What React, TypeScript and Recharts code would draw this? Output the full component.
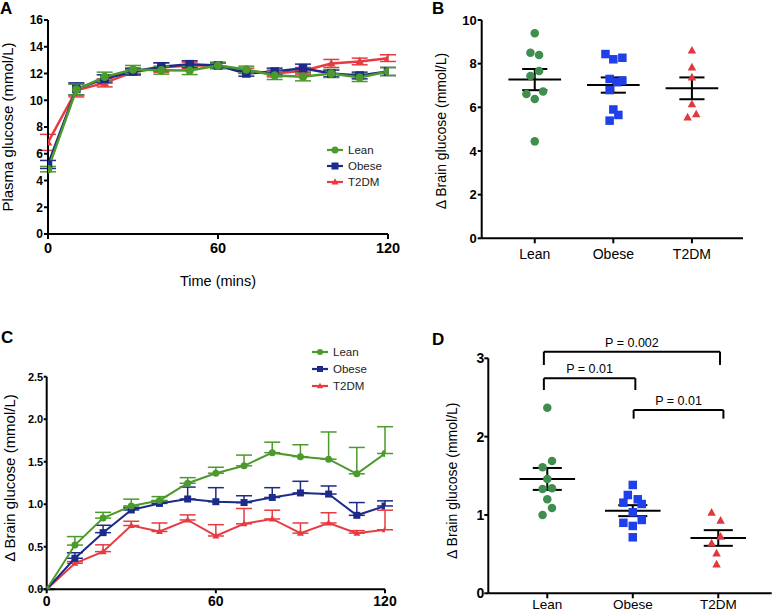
import React from 'react';
import { LineChart, Line, XAxis, YAxis, ErrorBar, ScatterChart, Scatter, ReferenceLine, Legend } from 'recharts';

const FONT = '"Liberation Sans", Arial, Helvetica, sans-serif';

// ---------- shared ----------
const groups = ['Lean', 'Obese', 'T2DM'];
const times = [0, 10, 20, 30, 40, 50, 60, 70, 80, 90, 100, 110, 120];

// ---------- Panel A: plasma glucose (mmol/L), mean ± SEM ----------
const plasmaLean = [4.85, 10.8, 11.75, 12.3, 12.25, 12.22, 12.6, 12.3, 11.85, 11.75, 12.0, 11.7, 12.15];
const plasmaLeanSem = [0.2, 0.4, 0.35, 0.3, 0.3, 0.3, 0.25, 0.25, 0.3, 0.3, 0.3, 0.3, 0.3];
const plasmaObese = [5.2, 10.85, 11.6, 12.15, 12.5, 12.7, 12.6, 12.0, 12.15, 12.4, 12.0, 11.85, 12.15];
const plasmaObeseSem = [0.3, 0.45, 0.3, 0.25, 0.3, 0.25, 0.2, 0.2, 0.25, 0.3, 0.25, 0.25, 0.3];
const plasmaT2dm = [6.85, 10.75, 11.3, 12.1, 12.45, 12.6, 12.6, 12.2, 12.0, 12.2, 12.75, 12.9, 13.15];
const plasmaT2dmSem = [0.6, 0.5, 0.3, 0.2, 0.35, 0.25, 0.2, 0.2, 0.25, 0.25, 0.3, 0.25, 0.25];

// ---------- Panel B: Δ brain glucose individual values ----------
const bLean = [9.39, 8.5, 8.4, 7.66, 7.43, 6.61, 6.72, 6.38, 4.44];
const bLeanJitter = [0, -0.055, 0.055, 0.055, -0.055, -0.106, 0.106, 0, 0];
const bObese = [8.44, 8.2, 8.27, 7.3, 7.15, 7.22, 6.79, 5.9, 5.65, 5.39];
const bObeseJitter = [-0.1, 0, 0.115, -0.047, 0.05, 0.115, -0.047, 0, 0.064, -0.047];
const bT2dm = [8.6, 7.83, 7.37, 6.14, 5.54, 5.68];
const bT2dmJitter = [0, 0, 0, 0, -0.055, 0.055];
const bMean = [7.27, 7.02, 6.87];
const bSem = [0.485, 0.35, 0.5];

// ---------- Panel C: Δ brain glucose time course, mean + SEM ----------
const brainLean = [0, 0.52, 0.837, 0.98, 1.045, 1.247, 1.365, 1.452, 1.607, 1.56, 1.53, 1.358, 1.597];
const brainLeanSem = [0, 0.1, 0.068, 0.08, 0.045, 0.066, 0.07, 0.126, 0.123, 0.14, 0.32, 0.31, 0.315];
const brainObese = [0, 0.365, 0.666, 0.933, 1.01, 1.062, 1.03, 1.02, 1.08, 1.133, 1.12, 0.87, 0.98];
const brainObeseSem = [0, 0.065, 0.087, 0.03, 0.03, 0.14, 0.165, 0.08, 0.115, 0.137, 0.095, 0.15, 0.06];
const brainT2dm = [0, 0.306, 0.443, 0.75, 0.68, 0.815, 0.627, 0.77, 0.827, 0.66, 0.78, 0.66, 0.7];
const brainT2dmSem = [0, 0.02, 0.08, 0.05, 0.1, 0.06, 0.133, 0.18, 0.103, 0.12, 0.12, 0.03, 0.23];

// ---------- Panel D: Δ brain glucose individual values ----------
const dLean = [2.37, 1.69, 1.61, 1.46, 1.33, 1.34, 1.2, 1.09, 1.0];
const dLeanJitter = [0, 0.055, -0.055, 0, -0.055, 0.055, 0, 0.055, -0.055];
const dObese = [1.383, 1.255, 1.2, 1.157, 1.14, 1.034, 0.9, 0.936, 0.86, 0.715];
const dObeseJitter = [0, -0.058, 0.058, -0.11, 0.105, 0, -0.11, 0.105, 0, 0];
const dT2dm = [1.03, 0.928, 0.723, 0.638, 0.51, 0.37];
const dT2dmJitter = [-0.078, 0.027, 0.027, -0.078, -0.02, -0.02];
const dMean = [1.46, 1.055, 0.706];
const dSem = [0.14, 0.07, 0.1];
const pLabels = ['P = 0.002', 'P = 0.01', 'P = 0.01'];
const pFrom = [0.96, 0.96, 2.01];
const pTo = [3.02, 2.03, 3.06];
const pTop = [3.085, 2.745, 2.34];
const pDrop = [0.17, 0.15, 0.11];

// ---------- styling ----------
const lineColors: Record<string, string> = { Lean: '#4b9a2b', Obese: '#1d2a8a', T2DM: '#e63b40' };
const dotColors: Record<string, string> = { Lean: '#3e8e4f', Obese: '#1f3fe8', T2DM: '#e2373f' };
const shapeOf: Record<string, string> = { Lean: 'circle', Obese: 'square', T2DM: 'triangle' };

function Marker({ cx, cy, kind, size, color }: any) {
  if (cx == null || cy == null) return null;
  if (kind === 'circle') return <circle cx={cx} cy={cy} r={size / 2} fill={color} />;
  if (kind === 'square') return <rect x={cx - size / 2} y={cy - size / 2} width={size} height={size} fill={color} />;
  const h = size * 0.9;
  return <polygon points={`${cx},${cy - h * 0.6} ${cx - size / 2},${cy + h * 0.4} ${cx + size / 2},${cy + h * 0.4}`} fill={color} />;
}

const dotFn = (name: string, size: number, palette: Record<string, string>) => (p: any) => (
  <Marker key={`${name}-${p.index}`} cx={p.cx} cy={p.cy} kind={shapeOf[name]} size={size} color={palette[name]} />
);

const shapeFn = (name: string, size: number) => (p: any) => (
  <Marker cx={p.cx} cy={p.cy} kind={shapeOf[name]} size={size} color={dotColors[name]} />
);

const vLabel = (text: string, x: number, y: number, size: number) => () => (
  <text x={x} y={y} transform={`rotate(-90 ${x} ${y})`} textAnchor="middle" fontSize={size} fontFamily={FONT} fill="#000">
    {text}
  </text>
);

const hLabel = (text: string, x: number, y: number, size: number) => () => (
  <text x={x} y={y} textAnchor="middle" fontSize={size} fontFamily={FONT} fill="#000">
    {text}
  </text>
);

function LegendBox({ size, rowH }: { size: number; rowH: number }) {
  return (
    <div style={{ fontFamily: FONT, fontSize: 11.5, color: '#222' }}>
      {groups.map((g) => (
        <div key={g} style={{ display: 'flex', alignItems: 'center', height: rowH }}>
          <svg width={18} height={12} style={{ display: 'block' }}>
            <line x1={1} y1={6} x2={17} y2={6} stroke={lineColors[g]} strokeWidth={2.2} />
            <Marker cx={9} cy={6} kind={shapeOf[g]} size={size} color={lineColors[g]} />
          </svg>
          <span style={{ marginLeft: 4 }}>{g}</span>
        </div>
      ))}
    </div>
  );
}

const axisStroke = { stroke: '#000', strokeWidth: 2 };
const boldTick = (fs: number) => ({ fontSize: fs, fontWeight: 'bold', fill: '#000', fontFamily: FONT });
const normTick = (fs: number) => ({ fontSize: fs, fill: '#000', fontFamily: FONT });

function meanSem(means: number[], sems: number[], halfMean: number, halfCap: number, prefix: string) {
  return means.flatMap((m, i) => {
    const x = i + 1;
    const lo = m - sems[i];
    const hi = m + sems[i];
    const common = { stroke: '#000', strokeWidth: 2, ifOverflow: 'visible' as const };
    return [
      <ReferenceLine key={`${prefix}m${i}`} segment={[{ x: x - halfMean, y: m }, { x: x + halfMean, y: m }]} {...common} />,
      <ReferenceLine key={`${prefix}v${i}`} segment={[{ x, y: lo }, { x, y: hi }]} {...common} />,
      <ReferenceLine key={`${prefix}h${i}`} segment={[{ x: x - halfCap, y: hi }, { x: x + halfCap, y: hi }]} {...common} />,
      <ReferenceLine key={`${prefix}l${i}`} segment={[{ x: x - halfCap, y: lo }, { x: x + halfCap, y: lo }]} {...common} />,
    ];
  });
}

const toPoints = (vals: number[], jit: number[], g: number) => vals.map((v, i) => ({ x: g + jit[i], y: v }));

export default function App() {
  const plasmaRows = times.map((t, i) => ({
    t,
    Lean: plasmaLean[i], LeanErr: plasmaLeanSem[i],
    Obese: plasmaObese[i], ObeseErr: plasmaObeseSem[i],
    T2DM: plasmaT2dm[i], T2DMErr: plasmaT2dmSem[i],
  }));
  const brainRows = times.map((t, i) => ({
    t,
    Lean: brainLean[i], LeanErr: brainLeanSem[i],
    Obese: brainObese[i], ObeseErr: brainObeseSem[i],
    T2DM: brainT2dm[i], T2DMErr: brainT2dmSem[i],
  }));
  const bSeries = [toPoints(bLean, bLeanJitter, 1), toPoints(bObese, bObeseJitter, 2), toPoints(bT2dm, bT2dmJitter, 3)];
  const dSeries = [toPoints(dLean, dLeanJitter, 1), toPoints(dObese, dObeseJitter, 2), toPoints(dT2dm, dT2dmJitter, 3)];
  const drawOrder = ['T2DM', 'Obese', 'Lean'];
  const letter = (ch: string, left: number, top: number) => (
    <div style={{ position: 'absolute', left, top, fontFamily: FONT, fontWeight: 'bold', fontSize: 17, lineHeight: 1 }}>{ch}</div>
  );

  return (
    <div style={{ position: 'absolute', left: 0, top: 0, width: 773, height: 613, background: '#fff', overflow: 'hidden' }}>
      {/* Panel A */}
      <div style={{ position: 'absolute', left: 0, top: 0 }}>
        <LineChart width={400} height={295} data={plasmaRows} margin={{ top: 20, right: 12, bottom: 31, left: 0 }}>
          <XAxis dataKey="t" type="number" domain={[0, 120]} ticks={[0, 60, 120]} allowDataOverflow
            axisLine={axisStroke} tickLine={axisStroke} tickSize={5} tickMargin={4} height={30}
            tick={boldTick(14.5)} label={hLabel('Time (mins)', 218, 286, 14.5)} />
          <YAxis type="number" domain={[0, 16]} ticks={[0, 2, 4, 6, 8, 10, 12, 14, 16]} allowDataOverflow
            axisLine={axisStroke} tickLine={axisStroke} tickSize={4} tickMargin={1} width={48}
            tick={boldTick(12)} label={vLabel('Plasma glucose (mmol/L)', 13, 127, 15)} />
          {drawOrder.map((g) => (
            <Line key={g} dataKey={g} name={g} stroke={lineColors[g]} strokeWidth={2.5} isAnimationActive={false}
              dot={dotFn(g, 8.5, lineColors)} activeDot={false}>
              <ErrorBar dataKey={`${g}Err`} width={8} stroke={lineColors[g]} strokeWidth={1.5} direction="y" />
            </Line>
          ))}
          <Legend layout="vertical" align="center" verticalAlign="middle"
            wrapperStyle={{ left: 326, top: 142, width: 80 }}
            content={() => <LegendBox size={7} rowH={16} />} />
        </LineChart>
      </div>

      {/* Panel B */}
      <div style={{ position: 'absolute', left: 400, top: 0 }}>
        <ScatterChart width={373} height={295} margin={{ top: 20, right: 30, bottom: 26.7, left: 0 }}>
          <XAxis dataKey="x" type="number" domain={[0.325, 3.65]} ticks={[1, 2, 3]} allowDataOverflow
            tickFormatter={(v: number) => groups[v - 1]}
            axisLine={axisStroke} tickLine={axisStroke} tickSize={5} tickMargin={5.5} height={30}
            tick={normTick(14)} />
          <YAxis dataKey="y" type="number" domain={[0, 10]} ticks={[0, 2, 4, 6, 8, 10]} allowDataOverflow
            axisLine={axisStroke} tickLine={axisStroke} tickSize={4} tickMargin={1} width={81.7}
            tick={boldTick(13)} label={vLabel('Δ Brain glucose (mmol/L)', 46, 131, 14)} />
          {groups.map((g, i) => (
            <Scatter key={g} name={g} data={bSeries[i]} isAnimationActive={false} shape={shapeFn(g, 8.5)} />
          ))}
          {meanSem(bMean, bSem, 0.335, 0.16, 'b')}
        </ScatterChart>
      </div>

      {/* Panel C */}
      <div style={{ position: 'absolute', left: 0, top: 300 }}>
        <LineChart width={400} height={313} data={brainRows} margin={{ top: 76.7, right: 15, bottom: 0, left: 0 }}>
          <XAxis dataKey="t" type="number" domain={[0, 120]} ticks={[0, 60, 120]} allowDataOverflow
            axisLine={axisStroke} tickLine={axisStroke} tickSize={4} tickMargin={3} height={23.7}
            tick={boldTick(14)} />
          <YAxis type="number" domain={[0, 2.5]} ticks={[0, 0.5, 1, 1.5, 2, 2.5]} allowDataOverflow
            tickFormatter={(v: number) => v.toFixed(1)}
            axisLine={axisStroke} tickLine={axisStroke} tickSize={3} tickMargin={0.5} width={46.7}
            tick={boldTick(11)} label={vLabel('Δ Brain glucose (mmol/L)', 14.5, 178, 15)} />
          {drawOrder.map((g) => (
            <Line key={g} dataKey={g} name={g} stroke={lineColors[g]} strokeWidth={2} isAnimationActive={false}
              dot={dotFn(g, 7, lineColors)} activeDot={false}>
              <ErrorBar dataKey={(d: any) => [0, d[`${g}Err`]]} width={8} stroke={lineColors[g]} strokeWidth={1.5} direction="y" />
            </Line>
          ))}
          <Legend layout="vertical" align="center" verticalAlign="middle"
            wrapperStyle={{ left: 311, top: 43.5, width: 80 }}
            content={() => <LegendBox size={6} rowH={17} />} />
        </LineChart>
      </div>

      {/* Panel D */}
      <div style={{ position: 'absolute', left: 400, top: 300 }}>
        <ScatterChart width={373} height={313} margin={{ top: 58.3, right: 1.3, bottom: 0, left: 0 }}>
          <XAxis dataKey="x" type="number" domain={[0.31, 3.625]} ticks={[1, 2, 3]} allowDataOverflow
            tickFormatter={(v: number) => groups[v - 1]}
            axisLine={axisStroke} tickLine={axisStroke} tickSize={5} tickMargin={1} height={19.7}
            tick={normTick(13.5)} />
          <YAxis dataKey="y" type="number" domain={[0, 3]} ticks={[0, 1, 2, 3]} allowDataOverflow
            axisLine={axisStroke} tickLine={axisStroke} tickSize={4} tickMargin={0} width={88.3}
            tick={boldTick(14)} label={vLabel('Δ Brain glucose (mmol/L)', 57, 180.7, 14)} />
          {groups.map((g, i) => (
            <Scatter key={g} name={g} data={dSeries[i]} isAnimationActive={false} shape={shapeFn(g, 8.5)} />
          ))}
          {meanSem(dMean, dSem, 0.325, 0.17, 'd')}
          {pLabels.flatMap((lab, i) => {
            const common = { stroke: '#000', strokeWidth: 2, ifOverflow: 'visible' as const };
            return [
              <ReferenceLine key={`ph${i}`} segment={[{ x: pFrom[i], y: pTop[i] }, { x: pTo[i], y: pTop[i] }]} {...common}
                label={{ value: lab, position: 'top', offset: 5, fontSize: 12.5, fill: '#000', fontFamily: FONT }} />,
              <ReferenceLine key={`pl${i}`} segment={[{ x: pFrom[i], y: pTop[i] }, { x: pFrom[i], y: pTop[i] - pDrop[i] }]} {...common} />,
              <ReferenceLine key={`pr${i}`} segment={[{ x: pTo[i], y: pTop[i] }, { x: pTo[i], y: pTop[i] - pDrop[i] }]} {...common} />,
            ];
          })}
        </ScatterChart>
      </div>

      {letter('A', 0, 0)}
      {letter('B', 432, 0)}
      {letter('C', 1, 328.9)}
      {letter('D', 432, 330.6)}
    </div>
  );
}
